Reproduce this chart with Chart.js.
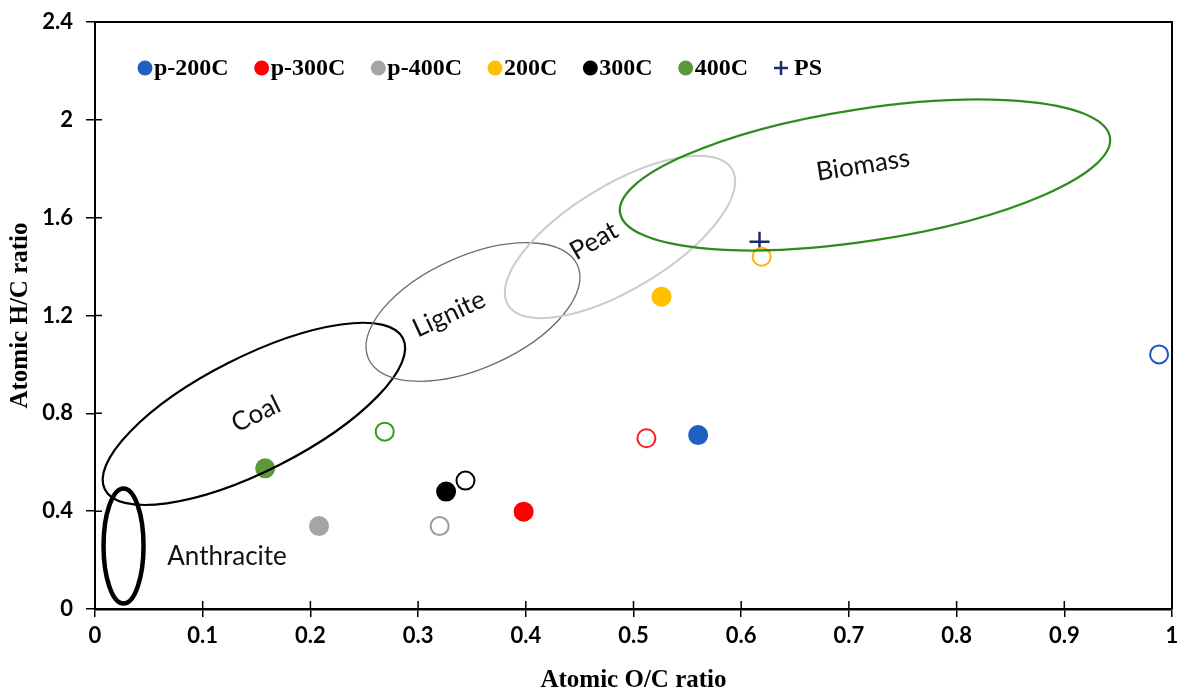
<!DOCTYPE html>
<html>
<head>
<meta charset="utf-8">
<script src="https://cdn.jsdelivr.net/npm/chart.js@4.4.1/dist/chart.umd.min.js"></script>
<style>
  body { margin: 0; background: #fff; }
  #wrap { width: 1181px; height: 688px; }
</style>
</head>
<body>
<div id="wrap"><canvas id="vk" width="1181" height="688"></canvas></div>
<script>
// --- Data ---
const seriesNames = ['p-200C', 'p-300C', 'p-400C', '200C', '300C', '400C'];
// filled markers
const solidOC = [0.560, 0.398, 0.208, 0.526, 0.326, 0.158];
const solidHC = [0.711, 0.398, 0.339, 1.277, 0.480, 0.575];
// open markers
const openOC = [0.988, 0.512, 0.320, 0.619, 0.344, 0.269];
const openHC = [1.041, 0.698, 0.339, 1.440, 0.525, 0.725];
// raw PS
const psOC = [0.617];
const psHC = [1.502];

const xTicks = [0, 0.1, 0.2, 0.3, 0.4, 0.5, 0.6, 0.7, 0.8, 0.9, 1];
const yTicks = [0, 0.4, 0.8, 1.2, 1.6, 2, 2.4];

// styles
const solidColors = ['#1f5fc1', '#ff0000', '#a5a5a5', '#ffc000', '#000000', '#5b9a3a'];
const openColors = ['#1a56bd', '#ff1a1a', '#9b9b9b', '#ffb300', '#000000', '#3c9a1c'];
const psColor = '#1c2b6e';

// fuel regions: ends of the long axis (data units), half width in px
const regions = [
  { name: 'Anthracite', tips: [[0.0265, 0.4927], [0.0265, 0.0225]], half: 20, color: '#000000', lw: 4.5, at: [0.1226, 0.2126], rot: 0 },
  { name: 'Coal', tips: [[0.0092, 0.4886], [0.2859, 1.1068]], half: 57, color: '#000000', lw: 2.2, at: [0.1495, 0.797], rot: -26 },
  { name: 'Lignite', tips: [[0.2539, 1.0230], [0.4480, 1.4057]], half: 56, color: '#6e6e6e', lw: 1.3, at: [0.3287, 1.206], rot: -25 },
  { name: 'Peat', tips: [[0.3835, 1.2430], [0.5915, 1.7990]], half: 52, color: '#cbcbcb', lw: 2, at: [0.4633, 1.505], rot: -30 },
  { name: 'Biomass', tips: [[0.4875, 1.6203], [0.9424, 1.9286]], half: 66, color: '#2e8b1e', lw: 2.3, at: [0.7131, 1.815], rot: -9 }
];

const datasets = seriesNames.map((name, i) => ({
  label: name,
  data: [{ x: solidOC[i], y: solidHC[i] }, { x: openOC[i], y: openHC[i] }],
  pointBackgroundColor: [solidColors[i], '#ffffff'],
  pointBorderColor: [solidColors[i], openColors[i]],
  pointBorderWidth: 2,
  pointRadius: 9,
  pointStyle: 'circle'
}));
datasets.push({
  label: 'PS',
  data: psOC.map((x, i) => ({ x: x, y: psHC[i] })),
  pointBackgroundColor: psColor,
  pointBorderColor: psColor,
  pointBorderWidth: 2.5,
  pointRadius: 10,
  pointStyle: 'cross'
});

const fmt = v => String(Number(v.toFixed(1)));

// fixed axis boxes so the plot area matches the reference
const pinScale = size => s => {
  if (s.isHorizontal()) s.height = size; else s.width = size;
  s.paddingTop = 0; s.paddingBottom = 0; s.paddingLeft = 0; s.paddingRight = 0;
};

// regions, frame, inside ticks, legend
const vkPlugin = {
  id: 'vk',
  afterDatasetsDraw(chart) {
    const { ctx, scales: { x, y } } = chart;
    regions.forEach(r => {
      const x1 = x.getPixelForValue(r.tips[0][0]), y1 = y.getPixelForValue(r.tips[0][1]);
      const x2 = x.getPixelForValue(r.tips[1][0]), y2 = y.getPixelForValue(r.tips[1][1]);
      const a = Math.hypot(x2 - x1, y2 - y1) / 2;
      ctx.save();
      ctx.beginPath();
      ctx.ellipse((x1 + x2) / 2, (y1 + y2) / 2, a, r.half, Math.atan2(y2 - y1, x2 - x1), 0, Math.PI * 2);
      ctx.strokeStyle = r.color;
      ctx.lineWidth = r.lw;
      ctx.stroke();
      ctx.translate(x.getPixelForValue(r.at[0]), y.getPixelForValue(r.at[1]));
      ctx.rotate(r.rot * Math.PI / 180);
      ctx.font = '26px Lato';
      ctx.fillStyle = '#111';
      ctx.textAlign = 'center';
      ctx.textBaseline = 'middle';
      ctx.fillText(r.name, 0, 0);
      ctx.restore();
    });
  },
  afterDraw(chart) {
    const { ctx, chartArea: ca, scales: { x, y } } = chart;
    ctx.save();
    ctx.strokeStyle = '#000';
    ctx.lineWidth = 2;
    ctx.beginPath();
    ctx.moveTo(ca.left, ca.top);
    ctx.lineTo(ca.right, ca.top);
    ctx.lineTo(ca.right, ca.bottom);
    ctx.stroke();
    // inner half of the crossing ticks
    ctx.lineWidth = 1.5;
    ctx.beginPath();
    xTicks.forEach(v => {
      const px = x.getPixelForValue(v);
      ctx.moveTo(px, ca.bottom);
      ctx.lineTo(px, ca.bottom - 8);
    });
    yTicks.forEach(v => {
      const py = y.getPixelForValue(v);
      ctx.moveTo(ca.left, py);
      ctx.lineTo(ca.left + 7, py);
    });
    ctx.stroke();

    // legend inside the plot
    let cx = 145;
    const cy = 68;
    ctx.font = 'bold 24px "Liberation Serif"';
    ctx.textBaseline = 'middle';
    ctx.textAlign = 'left';
    chart.data.datasets.forEach(ds => {
      if (ds.pointStyle === 'cross') {
        ctx.strokeStyle = psColor;
        ctx.lineWidth = 2.5;
        ctx.beginPath();
        ctx.moveTo(cx - 7, cy); ctx.lineTo(cx + 7, cy);
        ctx.moveTo(cx, cy - 7); ctx.lineTo(cx, cy + 7);
        ctx.stroke();
        ctx.fillStyle = '#000';
        ctx.fillText(ds.label, cx + 13, cy + 1);
        return;
      }
      ctx.fillStyle = ds.pointBackgroundColor[0];
      ctx.beginPath();
      ctx.arc(cx, cy, 7.5, 0, Math.PI * 2);
      ctx.fill();
      ctx.fillStyle = '#000';
      ctx.fillText(ds.label, cx + 9, cy + 1);
      cx += 9 + ctx.measureText(ds.label).width + 33;
    });
    ctx.restore();
  }
};

new Chart(document.getElementById('vk'), {
  type: 'scatter',
  data: { datasets: datasets },
  options: {
    responsive: false,
    animation: false,
    layout: { autoPadding: false, padding: { top: 22, right: 9, left: 0, bottom: 0 } },
    plugins: { legend: { display: false }, tooltip: { enabled: false } },
    scales: {
      x: {
        type: 'linear',
        min: 0,
        max: 1,
        afterFit: pinScale(79),
        afterBuildTicks: s => { s.ticks = xTicks.map(v => ({ value: v })); },
        ticks: {
          callback: v => fmt(v),
          color: '#000',
          padding: 6,
          maxRotation: 0,
          font: { family: 'Lato', size: 22, weight: 'bold' }
        },
        grid: { drawOnChartArea: false, tickLength: 8, color: '#000', lineWidth: 1.5 },
        border: { color: '#000', width: 2.5 },
        title: {
          display: true,
          text: 'Atomic O/C ratio',
          color: '#000',
          padding: { top: 0, bottom: 0 },
          font: { family: 'Liberation Serif', size: 25, weight: 'bold', lineHeight: 0.6 }
        }
      },
      y: {
        type: 'linear',
        min: 0,
        max: 2.4,
        afterFit: pinScale(95),
        afterBuildTicks: s => { s.ticks = yTicks.map(v => ({ value: v })); },
        ticks: {
          callback: v => fmt(v),
          color: '#000',
          padding: 13,
          font: { family: 'Lato', size: 22, weight: 'bold' }
        },
        grid: { drawOnChartArea: false, tickLength: 9, color: '#000', lineWidth: 1.5 },
        border: { color: '#000', width: 2 },
        title: {
          display: true,
          text: 'Atomic H/C ratio',
          color: '#000',
          padding: { top: 13, bottom: 0 },
          font: { family: 'Liberation Serif', size: 25, weight: 'bold', lineHeight: 0.6 }
        }
      }
    }
  },
  plugins: [vkPlugin]
});
</script>
</body>
</html>
